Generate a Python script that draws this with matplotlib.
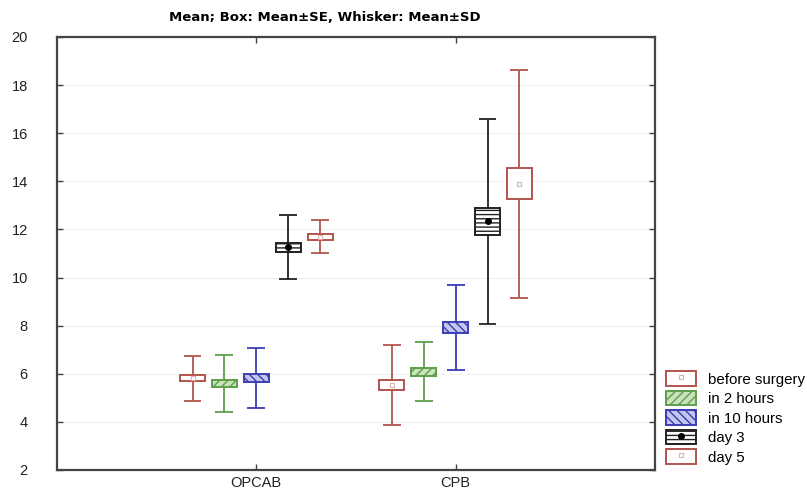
import numpy as np
import matplotlib
matplotlib.use("Agg")
import matplotlib.pyplot as plt
from matplotlib.patches import Rectangle, Patch
from matplotlib.lines import Line2D

plt.rcParams['font.family'] = ['Liberation Sans', 'DejaVu Sans']
plt.rcParams['hatch.linewidth'] = 1.0

groups = ["OPCAB", "CPB"]
series = ["before surgery", "in 2 hours", "in 10 hours", "day 3", "day 5"]

# mean, SE, SD per series (rows) for OPCAB / CPB (cols)
means = [[5.81, 5.54],
         [5.61, 6.08],
         [5.83, 7.92],
         [11.25, 12.33],
         [11.69, 13.90]]
se = [[0.12, 0.22],
      [0.15, 0.16],
      [0.16, 0.24],
      [0.19, 0.58],
      [0.12, 0.65]]
sd = [[0.94, 1.67],
      [1.18, 1.23],
      [1.24, 1.75],
      [1.33, 4.28],
      [0.69, 4.74]]

red = "#b3544d"
green = "#5e9e4c"
blue = "#3a3cb2"
black = "#222222"
edge_cols = [red, green, blue, black, red]
face_cols = ["white", "#c9e3bd", "#c3c5ee", "white", "white"]
hatches = [None, "////", "\\\\\\\\", "----", None]

fig = plt.figure(figsize=(8.07, 4.88), dpi=100)
ax = fig.add_axes([0.0706, 0.0369, 0.7410, 0.8873])

xpos = np.array([1, 2])
offsets = np.array([-2, -1, 0, 1, 2]) * 0.16
box_w = 0.125
cap_w = 0.09

for i in range(len(series)):
    col = edge_cols[i]
    for j in range(len(groups)):
        x = xpos[j] + offsets[i]
        m, s, d = means[i][j], se[i][j], sd[i][j]
        ax.vlines(x, m - d, m + d, color=col, lw=1.3, zorder=2)
        ax.hlines([m - d, m + d], x - cap_w / 2, x + cap_w / 2, color=col, lw=1.3, zorder=2)
        ax.add_patch(Rectangle((x - box_w / 2, m - s), box_w, 2 * s, facecolor=face_cols[i],
                               edgecolor=col, hatch=hatches[i], lw=1.4, zorder=3))
        if i in (0, 4):
            ax.plot(x, m, marker="s", ms=3.5, mfc="white", mec="#e0b0aa", mew=0.8, zorder=4)
        elif i == 3:
            ax.plot(x, m, marker="o", ms=4, color="black", zorder=4)

ax.set_xlim(0, 3)
ax.set_ylim(2, 20)
ax.set_yticks(np.arange(2, 21, 2))
ax.set_xticks(xpos)
ax.set_xticklabels(groups, fontsize=10.5)
ax.tick_params(axis="both", direction="in", length=4, width=1, colors="#404040",
               top=True, right=True, labelcolor="#222222")
ax.tick_params(axis="y", pad=21, labelsize=10.5)
ax.tick_params(axis="x", pad=4)
for lbl in ax.get_yticklabels():
    lbl.set_horizontalalignment("right")
ax.grid(axis="y", color="#f0f0f0", lw=0.8)
ax.set_axisbelow(True)
for sp in ax.spines.values():
    sp.set_linewidth(1.6)
    sp.set_color("#444444")

fig.text(0.403, 0.965, "Mean; Box: Mean\u00b1SE, Whisker: Mean\u00b1SD",
         ha="center", va="center", fontsize=9.5, fontweight="bold", family="DejaVu Sans")

handles = []
for i in range(len(series)):
    p = Patch(facecolor=face_cols[i], edgecolor=edge_cols[i], hatch=hatches[i], lw=1.4)
    if i in (0, 4):
        handles.append((p, Line2D([], [], ls="none", marker="s", ms=3.5, mfc="white",
                                  mec="#e0b0aa", mew=0.8)))
    elif i == 3:
        handles.append((p, Line2D([], [], ls="none", marker="o", ms=4, color="black")))
    else:
        handles.append(p)

fig.legend(handles, series, loc="lower left", bbox_to_anchor=(0.822, 0.042),
           frameon=False, fontsize=10.8, handlelength=2.0, handleheight=1.1,
           labelspacing=0.28, handletextpad=0.75, borderpad=0.2, borderaxespad=0)

fig.savefig("out.png", dpi=100)
